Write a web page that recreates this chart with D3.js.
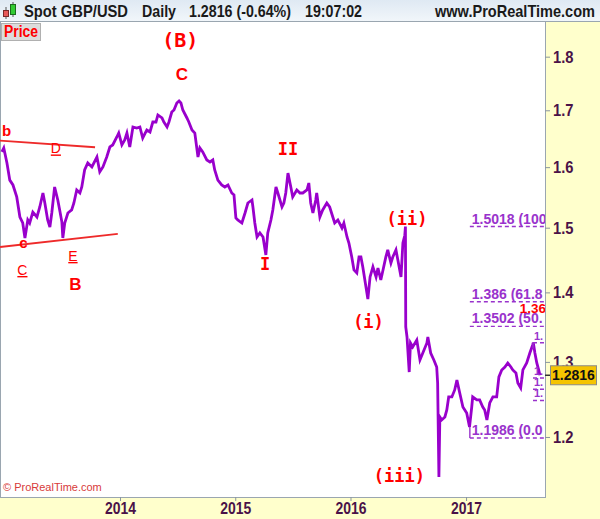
<!DOCTYPE html>
<html><head><meta charset="utf-8">
<script src="https://cdn.jsdelivr.net/npm/d3@7"></script>
<style>
html,body{margin:0;padding:0;background:#fff;}
svg{display:block;}
</style></head><body>
<svg id="chart" width="600" height="519"></svg>
<script>
// ---------- DATA ----------
const dates = [
"2012-12-23","2012-12-29","2013-01-08","2013-01-17","2013-01-27","2013-02-08","2013-02-18","2013-02-27",
"2013-03-06","2013-03-15","2013-03-21","2013-03-31","2013-04-13","2013-04-22","2013-05-02","2013-05-08",
"2013-05-17","2013-05-24","2013-05-30","2013-06-08","2013-06-18","2013-06-24","2013-07-01","2013-07-04",
"2013-07-10","2013-07-20","2013-08-01","2013-08-08","2013-08-17","2013-08-27","2013-09-02","2013-09-11",
"2013-09-21","2013-10-04","2013-10-20","2013-10-29","2013-11-08","2013-11-20","2013-11-30","2013-12-09",
"2013-12-22","2013-12-28","2014-01-07","2014-01-16","2014-01-23","2014-02-01","2014-02-11","2014-02-23",
"2014-03-05","2014-03-14","2014-03-27","2014-04-06","2014-04-15","2014-04-25","2014-05-01","2014-05-14",
"2014-05-20","2014-05-30","2014-06-05","2014-06-14","2014-06-21","2014-06-30","2014-07-07","2014-07-13",
"2014-07-19","2014-08-01","2014-08-07","2014-08-17","2014-08-26","2014-09-05","2014-09-11","2014-09-20",
"2014-10-03","2014-10-13","2014-10-22","2014-10-28","2014-11-07","2014-11-19","2014-11-29","2014-12-09",
"2014-12-21","2014-12-28","2015-01-03","2015-01-09","2015-01-22","2015-02-01","2015-02-10","2015-02-23",
"2015-02-26","2015-03-04","2015-03-11","2015-03-20","2015-03-30","2015-04-08","2015-04-14","2015-04-24",
"2015-04-30","2015-05-10","2015-05-16","2015-05-29","2015-06-04","2015-06-10","2015-06-17","2015-06-26",
"2015-07-02","2015-07-15","2015-07-25","2015-08-03","2015-08-16","2015-08-22","2015-08-28","2015-09-04",
"2015-09-13","2015-09-16","2015-09-26","2015-10-05","2015-10-18","2015-10-27","2015-11-06","2015-11-12",
"2015-11-22","2015-12-05","2015-12-11","2015-12-21","2015-12-27","2016-01-05","2016-01-12","2016-01-21",
"2016-01-28","2016-02-03","2016-02-09","2016-02-19","2016-02-25","2016-03-03","2016-03-12","2016-03-22",
"2016-03-28","2016-04-06","2016-04-13","2016-04-22","2016-04-28","2016-05-08","2016-05-14","2016-05-24",
"2016-05-30","2016-06-09","2016-06-15","2016-06-21","2016-06-23","2016-06-24","2016-06-28","2016-07-05",
"2016-07-09","2016-07-16","2016-07-29","2016-08-08","2016-08-17","2016-08-30","2016-09-02","2016-09-11",
"2016-09-21","2016-09-30","2016-10-03","2016-10-07","2016-10-10","2016-10-16","2016-10-26","2016-11-01",
"2016-11-07","2016-11-17","2016-11-26","2016-12-03","2016-12-12","2016-12-22","2017-01-03","2017-01-12",
"2017-01-19","2017-01-22","2017-02-04","2017-02-13","2017-02-23","2017-03-01","2017-03-08","2017-03-17",
"2017-03-27","2017-04-08","2017-04-15","2017-04-24","2017-05-04","2017-05-13","2017-05-23","2017-05-29",
"2017-06-08","2017-06-14","2017-06-23","2017-06-30","2017-07-12","2017-07-22","2017-07-31","2017-08-02",
"2017-08-07","2017-08-13","2017-08-19","2017-08-23"
];
const prices = [
1.6261,1.6330,1.6071,1.5780,1.5699,1.5500,1.5172,1.5075,
1.4836,1.5124,1.5075,1.5250,1.5172,1.5335,1.5565,1.5400,
1.5124,1.5011,1.5237,1.5665,1.5450,1.5286,1.5090,1.4836,
1.5075,1.5237,1.5286,1.5400,1.5615,1.5565,1.5665,1.5952,
1.6071,1.6003,1.6174,1.5920,1.6003,1.6174,1.6348,1.6383,
1.6523,1.6593,1.6383,1.6470,1.6593,1.6348,1.6700,1.6682,
1.6700,1.6505,1.6647,1.6611,1.6789,1.6789,1.6915,1.6861,
1.6789,1.6700,1.6789,1.6969,1.7005,1.7133,1.7170,1.7133,
1.7005,1.6861,1.6789,1.6647,1.6593,1.6174,1.6330,1.6261,
1.6123,1.6088,1.6123,1.5952,1.5780,1.5699,1.5665,1.5699,
1.5565,1.5532,1.5156,1.5124,1.5075,1.5237,1.5400,1.5450,
1.5335,1.5075,1.4852,1.4916,1.4852,1.4570,1.4916,1.5124,
1.5286,1.5665,1.5565,1.5335,1.5400,1.5565,1.5900,1.5665,
1.5500,1.5615,1.5565,1.5565,1.5615,1.5732,1.5400,1.5237,
1.5450,1.5565,1.5172,1.5286,1.5400,1.5335,1.5172,1.5075,
1.5124,1.4995,1.5075,1.4852,1.4757,1.4539,1.4339,1.4293,
1.4539,1.4539,1.4385,1.4081,1.3900,1.4232,1.4385,1.4232,
1.4369,1.4187,1.4339,1.4539,1.4648,1.4446,1.4539,1.4648,
1.4492,1.4232,1.4757,1.4880,1.5018,1.3493,1.3350,1.2860,
1.3265,1.3208,1.3307,1.3027,1.3124,1.3265,1.3350,1.3124,
1.3027,1.2930,1.2711,1.1499,1.2259,1.2220,1.2259,1.2351,
1.2523,1.2523,1.2617,1.2752,1.2576,1.2390,1.2311,1.2130,
1.2390,1.2523,1.2483,1.2483,1.2390,1.2351,1.2220,1.2443,
1.2523,1.2523,1.2793,1.2889,1.2930,1.2985,1.2930,1.2889,
1.2848,1.2711,1.2644,1.2889,1.2985,1.3124,1.3237,1.3268,
1.3124,1.2985,1.2889,1.2816
];
const yTicks = [1.2, 1.3, 1.4, 1.5, 1.6, 1.7, 1.8];
const yTickLabels = ["1.2", "1.3", "1.4", "1.5", "1.6", "1.7", "1.8"];
const xTickDates = ["2014-01-01", "2015-01-01", "2016-01-01", "2017-01-01"];
const xTickLabels = ["2014", "2015", "2016", "2017"];
const lastPrice = 1.2816;
const headerTexts = ["Spot GBP/USD", "Daily", "1.2816 (-0.64%)", "19:07:02", "www.ProRealTime.com"];

// Fibonacci retracement (large) - labels as visible (cut by the plot edge)
const fibLevels = [1.5018, 1.386, 1.3502, 1.1986];
const fibLabels = ["1.5018 (100", "1.386 (61.8", "1.3502 (50.", "1.1986 (0.0"];
const fibStart = "2017-01-13", fibLabelStart = "2017-01-19";
// Fibonacci retracement (small, right edge)
const fib2Levels = [1.3268, 1.2778, 1.2627, 1.2476];
const fib2Labels = ["1.", "1.", "1.", "1."];
const fib2Start = "2017-08-01";

// Wave labels: text, date, price, style
const waveTexts  = ["(B)", "C", "II", "I", "(ii)", "(i)", "(iii)", "B", "b", "c"];
const waveDates  = ["2014-07-11","2014-07-16","2015-06-17","2015-04-06","2016-06-28","2016-02-27","2016-06-04","2013-08-13","2012-12-23","2013-03-01"];
const wavePrices = [1.8187, 1.7558, 1.6209, 1.4339, 1.5043, 1.3479, 1.1438, 1.4036, 1.6541, 1.4679];
const waveStyles = ["mono20","sans17","mono17","mono17","mono17","mono17","mono17","sans17","sans15s","sans15"];
// underlined minor labels
const minorTexts  = ["D", "C", "E"];
const minorDates  = ["2013-06-12", "2013-02-26", "2013-08-05"];
const minorPrices = [1.6235, 1.4262, 1.4477];
// trend lines [date1, price1, date2, price2]
const trendDates1  = ["2012-12-17", "2012-12-17"];
const trendPrices1 = [1.6458, 1.4694];
const trendDates2  = ["2013-10-14", "2013-12-25"];
const trendPrices2 = [1.6343, 1.4900];
// red level text (cut by the plot edge)
const redLevelText = "1.36", redLevelDate = "2017-06-20", redLevelPrice = 1.3700;

// ---------- LAYOUT ----------
const W = 600, H = 519;
const plotL = 0, plotR = 545, plotT = 22, plotB = 497;
const parse = d3.timeParse("%Y-%m-%d");
const x = d3.scaleTime().domain([parse("2012-12-17"), parse("2017-09-08")]).range([plotL, plotR]);
const y = d3.scaleLog().domain([1.1256, 1.8678]).range([plotB, plotT]);

const svg = d3.select("#chart");
const defs = svg.append("defs");
const hg = defs.append("linearGradient").attr("id","hg").attr("x1",0).attr("y1",0).attr("x2",0).attr("y2",1);
hg.append("stop").attr("offset","0%").attr("stop-color","#dfe9f3");
hg.append("stop").attr("offset","100%").attr("stop-color","#f1f6fa");
defs.append("clipPath").attr("id","clip").append("rect")
  .attr("x",plotL).attr("y",plotT).attr("width",plotR-plotL).attr("height",plotB-plotT);

const SANS = "'Liberation Sans',Arial,sans-serif";
const MONO = "'DejaVu Sans Mono',monospace";
const AXC = "#4a1248";

svg.append("rect").attr("width",W).attr("height",H).attr("fill","#fff");
svg.append("rect").attr("x",plotR).attr("y",plotT).attr("width",W-plotR).attr("height",H-plotT).attr("fill","#ffffcc");
svg.append("rect").attr("x",0).attr("y",plotB).attr("width",W).attr("height",H-plotB).attr("fill","#ffffcc");
// header
svg.append("rect").attr("x",0).attr("y",0).attr("width",W).attr("height",plotT-1).attr("fill","url(#hg)");
svg.append("line").attr("x1",0).attr("x2",W).attr("y1",plotT-0.5).attr("y2",plotT-0.5).attr("stroke","#9aa6b0");
svg.append("line").attr("x1",6).attr("x2",6).attr("y1",7).attr("y2",19).attr("stroke","#555");
svg.append("rect").attr("x",3.5).attr("y",10.5).attr("width",5).attr("height",6).attr("fill","#e85a5a").attr("stroke","#7a2a2a");
svg.append("line").attr("x1",13).attr("x2",13).attr("y1",2).attr("y2",17).attr("stroke","#555");
svg.append("rect").attr("x",10.5).attr("y",4.5).attr("width",5).attr("height",10).attr("fill","#33cc33").attr("stroke","#1d6b1d");
const hdrX = [24, 142, 189, 305, 435];
const hdrW = [104, 34, 102, 57, 160];
const hdr = svg.append("g").attr("font-family",SANS).attr("font-weight","bold").attr("font-size",17).attr("fill","#1a1a1a");
headerTexts.forEach((t,i)=>{
  hdr.append("text").attr("x",hdrX[i]).attr("y",16.5)
    .attr("textLength",hdrW[i]).attr("lengthAdjust","spacingAndGlyphs").text(t);
});

// borders
svg.append("line").attr("x1",plotR+0.5).attr("x2",plotR+0.5).attr("y1",plotT).attr("y2",plotB).attr("stroke","#9aa6b0");
svg.append("line").attr("x1",0).attr("x2",plotR+1).attr("y1",plotB+0.5).attr("y2",plotB+0.5).attr("stroke","#9aa6b0");
svg.append("line").attr("x1",0.5).attr("x2",0.5).attr("y1",plotT).attr("y2",plotB).attr("stroke","#9aa6b0");

// ---------- SERIES ----------
const series = dates.map((d,i)=>({date:parse(d), price:prices[i]}));
const plot = svg.append("g").attr("clip-path","url(#clip)");
plot.append("path").datum(series)
  .attr("fill","none").attr("stroke","#9900cc").attr("stroke-width",2.8).attr("stroke-linejoin","miter")
  .attr("d", d3.line().x(d=>x(d.date)).y(d=>y(d.price)));

trendDates1.forEach((d,i)=>{
  plot.append("line")
    .attr("x1",x(parse(d))).attr("y1",y(trendPrices1[i]))
    .attr("x2",x(parse(trendDates2[i]))).attr("y2",y(trendPrices2[i]))
    .attr("stroke","#ee2a2a").attr("stroke-width",1.8);
});

const fibG = plot.append("g");
fibLevels.forEach((lv,i)=>{
  fibG.append("line").attr("x1",x(parse(fibStart))).attr("x2",plotR).attr("y1",y(lv)).attr("y2",y(lv))
    .attr("stroke","#9933cc").attr("stroke-width",1.4).attr("stroke-dasharray","4,3");
  fibG.append("text").attr("x",x(parse(fibLabelStart))).attr("y",y(lv)-3)
    .attr("font-family",SANS).attr("font-weight","bold").attr("font-size",14).attr("fill","#9933cc").text(fibLabels[i]);
});
fibG.append("line").attr("x1",x(parse(fibStart))).attr("x2",x(parse(fibStart)))
  .attr("y1",y(fibLevels[3])).attr("y2",y(1.2130)).attr("stroke","#9933cc").attr("stroke-width",1.4);
fib2Levels.forEach((lv,i)=>{
  fibG.append("line").attr("x1",x(parse(fib2Start))).attr("x2",plotR).attr("y1",y(lv)).attr("y2",y(lv))
    .attr("stroke","#9933cc").attr("stroke-width",1.4).attr("stroke-dasharray","4,3");
  fibG.append("text").attr("x",x(parse(fib2Start))+1).attr("y",y(lv)-3)
    .attr("font-family",SANS).attr("font-weight","bold").attr("font-size",11).attr("fill","#9933cc").text(fib2Labels[i]);
});
fibG.append("line").attr("x1",x(parse(fib2Start))).attr("x2",x(parse(fib2Start)))
  .attr("y1",y(fib2Levels[0])).attr("y2",y(fib2Levels[0])+6).attr("stroke","#9933cc").attr("stroke-width",1.4);
plot.append("text").attr("x",x(parse(redLevelDate))).attr("y",y(redLevelPrice))
  .attr("font-family",SANS).attr("font-weight","bold").attr("font-size",13.5).attr("fill","#ff0000").text(redLevelText);

// ---------- ANNOTATIONS ----------
const styleMap = {
  mono20:{f:MONO,s:20,w:"bold",a:"middle"},
  mono17:{f:MONO,s:17,w:"bold",a:"middle"},
  sans17:{f:SANS,s:17,w:"bold",a:"middle"},
  sans15:{f:SANS,s:15,w:"bold",a:"middle"},
  sans15s:{f:SANS,s:15,w:"bold",a:"start"}
};
waveTexts.forEach((t,i)=>{
  const st = styleMap[waveStyles[i]];
  svg.append("text").attr("x",x(parse(waveDates[i]))).attr("y",y(wavePrices[i]))
    .attr("font-family",st.f).attr("font-size",st.s).attr("font-weight",st.w)
    .attr("text-anchor",st.a).attr("fill","#ff0000").text(t);
});
minorTexts.forEach((t,i)=>{
  svg.append("text").attr("x",x(parse(minorDates[i]))).attr("y",y(minorPrices[i]))
    .attr("font-family",SANS).attr("font-size",14).attr("text-anchor","middle")
    .attr("text-decoration","underline").attr("fill","#ff0000").text(t);
});

svg.append("rect").attr("x",1.5).attr("y",plotT+1.5).attr("width",39).attr("height",17)
  .attr("fill","#dcdcdc").attr("stroke","#b0b0b0");
svg.append("text").attr("x",4).attr("y",plotT+15).attr("font-family",SANS).attr("font-weight","bold")
  .attr("font-size",16).attr("textLength",34).attr("lengthAdjust","spacingAndGlyphs")
  .attr("fill","#ff0000").text("Price");

svg.append("text").attr("x",3).attr("y",plotB-6).attr("font-family",SANS).attr("font-size",11)
  .attr("fill","#d83a3a").text("\u00a9 ProRealTime.com");

// ---------- AXES ----------
const yAxis = d3.axisRight(y).tickValues(yTicks).tickFormat((d,i)=>yTickLabels[i]).tickSize(5).tickPadding(3);
const yg = svg.append("g").attr("transform",`translate(${plotR},0)`).call(yAxis);
yg.select(".domain").remove();
yg.selectAll(".tick line").attr("stroke","#8a96a0");
yg.selectAll(".tick text").attr("font-family",SANS).attr("font-weight","bold").attr("font-size",17)
  .attr("textLength",20.5).attr("lengthAdjust","spacingAndGlyphs").attr("fill",AXC);

const xAxis = d3.axisBottom(x).tickValues(xTickDates.map(parse)).tickFormat((d,i)=>xTickLabels[i]).tickSize(4).tickPadding(1);
const xg = svg.append("g").attr("transform",`translate(0,${plotB})`).call(xAxis);
xg.select(".domain").remove();
xg.selectAll(".tick line").attr("stroke","#8a96a0");
xg.selectAll(".tick text").attr("font-family",SANS).attr("font-weight","bold").attr("font-size",17)
  .attr("textLength",31).attr("lengthAdjust","spacingAndGlyphs").attr("fill",AXC);

const yp = y(lastPrice);
svg.append("line").attr("x1",plotR).attr("x2",plotR+5).attr("y1",yp).attr("y2",yp).attr("stroke","#333").attr("stroke-width",1.5);
svg.append("rect").attr("x",550.5).attr("y",yp-9.5).attr("width",46).attr("height",19)
  .attr("fill","#f5c400").attr("stroke","#8a8a8a");
svg.append("text").attr("x",573.5).attr("y",yp+5).attr("text-anchor","middle")
  .attr("font-family",SANS).attr("font-weight","bold").attr("font-size",14).attr("fill","#111").text("1.2816");
</script>
</body></html>
